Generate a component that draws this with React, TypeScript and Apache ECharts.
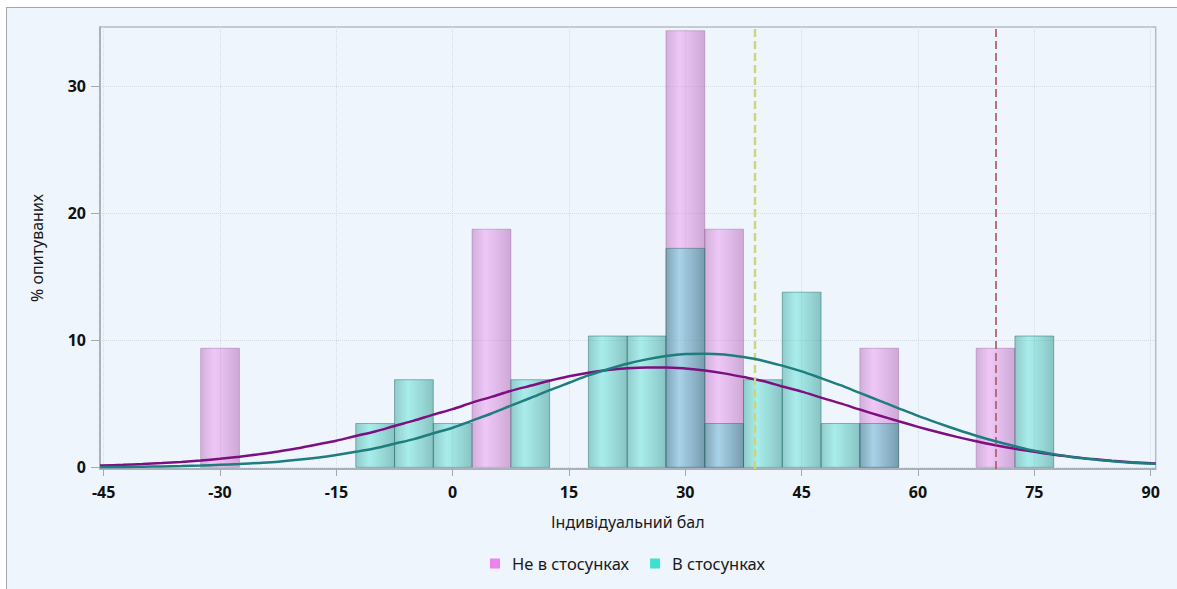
import React, { useEffect, useRef } from "react";
import * as echarts from "echarts";

// ---- data ----
const BIN_WIDTH = 5;
const seriesNames = ["Не в стосунках", "В стосунках"];
// histogram bin centres and percentages
const singleBins = [-30, 5, 30, 35, 55, 70];
const singlePct = [9.375, 18.75, 34.375, 18.75, 9.375, 9.375];
const coupleBins = [-10, -5, 0, 10, 20, 25, 30, 35, 40, 45, 50, 55, 75];
const couplePct = [3.45, 6.9, 3.45, 6.9, 10.34, 10.34, 17.24, 3.45, 6.9, 13.79, 3.45, 3.45, 10.34];
// fitted normal curves
const curveX = [
  -45.48, -42.5, -40, -37.5, -35, -32.5, -30, -27.5, -25, -22.5, -20, -17.5, -15, -12.5, -10, -7.5, -5, -2.5,
  0, 2.5, 5, 7.5, 10, 12.5, 15, 17.5, 20, 22.5, 25, 27.5, 30, 32.5, 35, 37.5, 40, 42.5, 45, 47.5,
  50, 52.5, 55, 57.5, 60, 62.5, 65, 67.5, 70, 72.5, 75, 77.5, 80, 82.5, 85, 87.5, 90.65,
];
const singleCurve = [
  0.14, 0.2, 0.26, 0.34, 0.43, 0.54, 0.68, 0.84, 1.03, 1.25, 1.5, 1.8, 2.1, 2.47, 2.82, 3.26, 3.68, 4.15,
  4.58, 5.1, 5.55, 6.02, 6.42, 6.82, 7.17, 7.45, 7.66, 7.8, 7.87, 7.87, 7.78, 7.63, 7.4, 7.11, 6.8, 6.37, 5.96, 5.49,
  5.04, 4.55, 4.08, 3.63, 3.19, 2.78, 2.4, 2.05, 1.74, 1.46, 1.22, 0.99, 0.82, 0.65, 0.52, 0.41, 0.3,
];
const coupleCurve = [
  0.03, 0.03, 0.05, 0.07, 0.1, 0.14, 0.2, 0.26, 0.35, 0.45, 0.59, 0.76, 0.97, 1.22, 1.5, 1.86, 2.22, 2.68,
  3.12, 3.68, 4.24, 4.86, 5.46, 6.08, 6.66, 7.24, 7.72, 8.16, 8.5, 8.76, 8.92, 8.95, 8.88, 8.68, 8.4, 8.0, 7.56, 7.02,
  6.47, 5.86, 5.26, 4.65, 4.05, 3.5, 2.98, 2.49, 2.05, 1.66, 1.3, 1.04, 0.8, 0.63, 0.48, 0.37, 0.28,
];
// reference lines
const refLineYellow = 39;
const refLineRed = 70;
// axes
const xTicks = [-45, -30, -15, 0, 15, 30, 45, 60, 75, 90];
const yTicks = [0, 10, 20, 30];
const xTitle = "Індивідуальний бал";
const yTitle = "% опитуваних";

const FONT = "'Noto Sans', 'DejaVu Sans', sans-serif";

function barSeries(name: string, bins: number[], pct: number[], fill: any, stroke: string, z: number) {
  return {
    name,
    type: "custom",
    z,
    data: bins.map((b, i) => [b, pct[i]]),
    encode: { x: 0, y: 1 },
    renderItem: (params: any, api: any) => {
      const c = api.value(0);
      const v = api.value(1);
      const tl = api.coord([c - BIN_WIDTH / 2, v]);
      const br = api.coord([c + BIN_WIDTH / 2, 0]);
      return {
        type: "rect",
        shape: { x: tl[0], y: tl[1], width: br[0] - tl[0], height: br[1] - tl[1] },
        style: { fill, stroke, lineWidth: 1 },
      };
    },
  };
}

export default function App() {
  const ref = useRef<HTMLDivElement>(null);
  useEffect(() => {
    if (!ref.current) return;
    const chart = echarts.init(ref.current, undefined, { renderer: "svg" });
    const pinkFill = new echarts.graphic.LinearGradient(0, 0, 1, 0, [
      { offset: 0, color: "rgba(170,80,170,0.42)" },
      { offset: 0.35, color: "rgba(238,130,238,0.4)" },
      { offset: 1, color: "rgba(165,75,165,0.45)" },
    ]);
    const tealFill = new echarts.graphic.LinearGradient(0, 0, 1, 0, [
      { offset: 0, color: "rgba(30,150,140,0.45)" },
      { offset: 0.35, color: "rgba(64,224,208,0.4)" },
      { offset: 1, color: "rgba(25,140,130,0.48)" },
    ]);
    const option: any = {
      animation: false,
      backgroundColor: "transparent",
      textStyle: { fontFamily: FONT },
      grid: {
        left: 100,
        top: 27,
        right: 21.3,
        bottom: 120,
        show: true,
        backgroundColor: "transparent",
        borderColor: "#b5bcc6",
        borderWidth: 1.5,
      },
      legend: {
        left: 485,
        top: 550,
        itemWidth: 10,
        itemHeight: 10,
        itemGap: 21,
        icon: "rect",
        textStyle: { fontFamily: FONT, fontSize: 16.5, color: "#1a1a1a", padding: [0, 0, 0, 7] },
        data: [
          { name: seriesNames[0], itemStyle: { color: "#EE82EE" } },
          { name: seriesNames[1], itemStyle: { color: "#40E0D0" } },
        ],
      },
      xAxis: {
        type: "value",
        min: -45.48,
        max: 90.65,
        name: xTitle,
        nameLocation: "middle",
        nameGap: 45,
        nameTextStyle: { fontFamily: FONT, fontSize: 16, color: "#1a1a1a" },
        axisLine: { show: true, onZero: false, lineStyle: { color: "#a3a9b0", width: 1.5 } },
        axisTick: { show: true, length: 7, customValues: xTicks, lineStyle: { color: "#a3a9b0" } },
        axisLabel: {
          customValues: xTicks,
          margin: 15,
          fontFamily: FONT,
          fontSize: 16,
          fontWeight: "bold",
          color: "#111",
        },
        splitLine: { show: true, lineStyle: { type: "dotted", color: "#d6dce3", width: 1 } },
      },
      yAxis: {
        type: "value",
        min: -0.13,
        max: 34.67,
        name: yTitle,
        nameLocation: "middle",
        nameGap: 55,
        nameTextStyle: { fontFamily: FONT, fontSize: 16, color: "#1a1a1a" },
        axisLine: { show: true, onZero: false, lineStyle: { color: "#a3a9b0", width: 1.5 } },
        axisTick: { show: true, length: 9, customValues: yTicks, lineStyle: { color: "#a3a9b0" } },
        axisLabel: {
          customValues: yTicks,
          margin: 14,
          fontFamily: FONT,
          fontSize: 16,
          fontWeight: "bold",
          color: "#111",
        },
        splitLine: { show: true, lineStyle: { type: "dotted", color: "#d6dce3", width: 1 } },
      },
      series: [
        barSeries(seriesNames[0], singleBins, singlePct, pinkFill, "rgba(140,80,140,0.35)", 2),
        barSeries(seriesNames[1], coupleBins, couplePct, tealFill, "rgba(30,100,95,0.45)", 3),
        {
          name: "single-curve",
          type: "line",
          z: 4,
          smooth: 0.3,
          showSymbol: false,
          symbol: "none",
          lineStyle: { color: "#7d0f80", width: 2.5 },
          data: curveX.map((x, i) => [x, singleCurve[i]]),
        },
        {
          name: "couple-curve",
          type: "line",
          z: 5,
          smooth: 0.3,
          showSymbol: false,
          symbol: "none",
          lineStyle: { color: "#1f7d7e", width: 2.5 },
          data: curveX.map((x, i) => [x, coupleCurve[i]]),
          markLine: {
            silent: true,
            symbol: "none",
            label: { show: false },
            data: [
              { xAxis: refLineYellow, lineStyle: { color: "#cbd679", width: 2.4, type: [8, 4] } },
              { xAxis: refLineRed, lineStyle: { color: "#b35a68", width: 1.7, type: [8, 4] } },
            ],
          },
        },
      ],
    };
    chart.setOption(option);
    return () => chart.dispose();
  }, []);

  return (
    <div style={{ position: "fixed", left: 0, top: 0, width: 1177, height: 589, background: "#ffffff", overflow: "hidden" }}>
      <div
        style={{
          position: "absolute",
          left: 6,
          top: 7,
          width: 1200,
          height: 600,
          background: "#eef5fd",
          borderTop: "1px solid #a6a6a6",
          borderLeft: "1px solid #a6a6a6",
        }}
      />
      <div ref={ref} style={{ position: "absolute", left: 0, top: 0, width: 1177, height: 589 }} />
    </div>
  );
}
